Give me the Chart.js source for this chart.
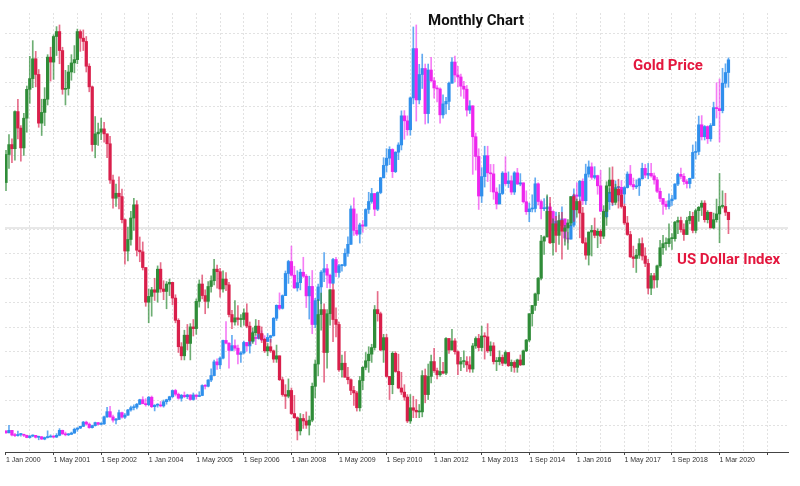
<!DOCTYPE html>
<html lang="en">
<head>
<meta charset="UTF-8">
<title>Gold Price vs US Dollar Index - Monthly Chart</title>
<script src="https://cdn.jsdelivr.net/npm/chart.js"></script>
<style>
  html, body { margin: 0; padding: 0; background: #fff; }
  #wrap { width: 800px; height: 486px; }
</style>
</head>
<body>
<div id="wrap"><canvas id="chart" width="800" height="486"></canvas></div>
<script>
// labels under the time axis, one every 16 monthly bars
const tickLabels = ['1 Jan 2000', '1 May 2001', '1 Sep 2002', '1 Jan 2004', '1 May 2005', '1 Sep 2006',
  '1 Jan 2008', '1 May 2009', '1 Sep 2010', '1 Jan 2012', '1 May 2013', '1 Sep 2014',
  '1 Jan 2016', '1 May 2017', '1 Sep 2018', '1 Mar 2020'];

// gold (XAUUSD) monthly bars, one row per year
const goldFirstOpen = 290;
const goldClose = [
  283,293,274,272,276,277,273,264,270,273,
  265,267,258,264,266,270,266,273,293,279,275,277,
  282,297,302,309,326,318,304,312,324,317,319,347,
  368,347,334,337,364,346,354,375,384,386,398,416,
  400,396,426,388,394,395,391,408,416,428,453,438,
  422,434,428,435,417,435,429,433,473,470,495,513,
  568,556,583,654,643,614,633,623,598,604,646,632,
  650,665,662,679,656,650,666,673,743,795,783,834,
  923,971,916,865,886,928,912,833,871,718,814,869,
  928,942,916,884,979,927,954,955,1004,1040,1182,1096,
  1081,1118,1113,1180,1212,1244,1181,1248,1307,1357,1386,1421,
  1332,1410,1439,1556,1536,1500,1628,1826,1620,1722,1746,1565,
  1740,1697,1668,1664,1560,1604,1614,1687,1772,1720,1712,1675,
  1663,1579,1596,1472,1393,1234,1312,1396,1327,1323,1250,1202,
  1244,1326,1284,1295,1250,1327,1282,1287,1211,1171,1182,1184,
  1283,1212,1183,1183,1190,1172,1095,1132,1115,1142,1065,1061,
  1117,1238,1233,1293,1215,1322,1351,1309,1316,1275,1173,1151,
  1211,1249,1249,1268,1269,1242,1268,1322,1280,1271,1275,1303,
  1345,1318,1325,1315,1299,1253,1224,1201,1192,1215,1222,1282,
  1321,1313,1292,1284,1305,1409,1413,1520,1472,1513,1464,1517,
  1589,1585,1577,1687,1730,1781
];
const goldHigh = [
  293,313,289,281,290,281,278,274,272,275,
  273,270,269,266,291,275,272,280,300,294,286,280,
  286,302,304,310,329,330,323,314,326,325,324,350,
  385,389,354,341,374,366,360,377,390,395,401,418,
  428,420,429,431,396,400,409,415,418,430,455,458,
  443,437,447,438,436,443,432,448,476,477,497,540,
  575,580,588,655,730,645,675,656,635,609,651,645,
  658,690,674,694,693,673,682,675,746,797,845,837,
  933,976,1033,952,934,940,988,919,912,935,823,880,
  935,1007,960,921,984,988,960,960,1022,1070,1195,1227,
  1162,1125,1136,1183,1249,1265,1244,1251,1309,1388,1424,1432,
  1424,1412,1448,1576,1577,1556,1632,1913,1921,1763,1804,1764,
  1764,1791,1710,1678,1668,1640,1630,1692,1790,1796,1755,1724,
  1695,1678,1617,1597,1487,1424,1348,1434,1434,1361,1361,1267,
  1280,1332,1392,1331,1315,1332,1345,1324,1287,1255,1206,1239,
  1307,1287,1219,1224,1232,1205,1175,1170,1157,1191,1142,1088,
  1127,1263,1287,1297,1303,1362,1375,1367,1352,1318,1337,1180,
  1220,1264,1261,1295,1271,1296,1272,1331,1357,1306,1299,1306,
  1366,1361,1365,1365,1326,1309,1266,1220,1214,1243,1237,1284,
  1326,1346,1324,1300,1306,1439,1452,1555,1557,1517,1516,1525,
  1611,1689,1704,1747,1765,1789
];
const goldLow = [
  281,283,271,268,270,270,268,263,262,267,
  262,255,256,255,262,266,263,264,271,276,271,272,
  276,281,289,300,308,315,301,302,310,315,315,317,
  345,345,326,319,336,342,341,353,370,375,379,396,
  399,390,392,384,371,386,387,386,398,410,425,431,
  418,410,424,420,414,414,418,428,432,459,467,488,
  514,538,541,580,640,543,612,614,560,566,600,611,
  603,648,637,659,653,642,649,647,671,734,777,780,
  834,883,912,863,852,857,907,786,740,681,705,753,
  802,890,866,865,881,910,908,932,951,991,1040,1076,
  1075,1045,1088,1113,1164,1205,1155,1175,1243,1313,1330,1360,
  1308,1328,1380,1419,1462,1478,1478,1604,1535,1604,1666,1523,
  1527,1692,1627,1612,1527,1547,1564,1581,1687,1692,1672,1635,
  1626,1555,1565,1321,1338,1180,1208,1270,1292,1251,1221,1182,
  1202,1240,1277,1268,1240,1240,1281,1275,1206,1160,1131,1170,
  1170,1198,1142,1175,1170,1162,1077,1080,1098,1112,1052,1046,
  1061,1110,1208,1207,1200,1200,1310,1301,1302,1241,1171,1123,
  1146,1180,1195,1240,1214,1236,1204,1266,1274,1260,1264,1236,
  1302,1307,1303,1310,1282,1247,1211,1160,1180,1182,1196,1221,
  1276,1303,1281,1266,1266,1305,1382,1400,1459,1459,1445,1454,
  1517,1547,1451,1568,1670,1671
];

// US Dollar Index monthly bars, one row per year
const usdFirstOpen = 101.9;
const usdClose = [
  105.3,106.5,106.0,110.5,108.5,106.1,109.7,113.2,114.5,116.9,115.0,109.1,
  110.4,112.0,117.1,116.5,119.6,120.2,117.9,113.2,113.3,115.3,116.4,116.8,
  120.2,119.4,119.0,116.0,113.5,106.5,107.8,108.0,108.4,107.8,106.6,102.2,
  100.0,100.6,100.2,97.4,93.6,95.0,97.6,99.2,93.7,93.5,91.6,87.4,
  88.1,88.9,88.6,91.4,89.0,88.7,89.6,89.8,87.9,85.2,82.0,80.9,
  83.4,82.4,84.4,84.2,87.5,89.6,88.2,87.5,89.3,90.0,91.4,91.1,
  89.0,90.2,89.5,85.9,85.0,85.5,85.3,85.3,86.1,84.5,82.7,83.7,
  84.5,83.6,82.9,81.5,82.0,81.5,80.5,80.9,78.0,76.2,76.0,76.7,
  73.9,73.4,71.8,73.3,73.0,72.5,73.1,77.2,79.9,85.9,86.5,81.3,
  86.0,88.9,85.3,84.7,79.2,80.0,78.3,78.0,76.7,76.4,74.6,77.9,
  79.5,80.3,81.1,81.9,86.5,86.0,81.6,83.1,78.4,77.4,81.2,79.0,
  77.0,76.5,75.9,73.0,74.6,74.3,74.1,74.1,78.5,76.2,78.4,80.2,
  79.1,78.6,79.0,78.8,83.0,81.6,82.7,81.4,79.9,80.2,80.2,79.8,
  79.3,82.1,83.0,81.9,83.3,83.2,81.5,82.1,80.2,80.2,80.7,80.0,
  81.3,79.7,80.1,79.5,80.4,79.8,81.5,82.8,86.0,87.0,88.4,90.3,
  94.8,95.3,98.4,94.6,96.9,95.5,97.3,96.0,96.4,97.0,100.2,98.6,
  99.6,98.2,94.6,93.1,95.9,96.1,95.5,96.0,95.4,98.4,101.5,102.2,
  99.5,101.1,100.4,99.0,97.0,95.6,92.9,92.7,93.1,94.5,93.0,92.1,
  89.1,90.6,90.1,91.8,94.0,94.5,94.5,95.1,95.1,97.1,97.3,96.2,
  95.6,97.3,97.8,96.1,98.5,98.9,99.4,97.4,98.3,96.4,
  97.4,98.1,99.0,99.0,98.3,97.4
];
const usdHigh = [
  105.8,107.7,107.2,110.6,112.0,108.8,110.3,113.6,117.2,119.1,117.8,115.6,
  112.0,113.4,117.4,118.3,119.8,120.8,121.0,118.3,115.5,116.1,117.4,118.5,
  120.5,120.4,120.4,119.6,116.3,113.6,109.9,109.1,109.7,109.2,107.3,107.5,
  102.8,101.7,102.6,101.1,97.5,96.5,98.4,100.0,99.7,95.3,94.7,91.6,
  89.0,89.2,90.3,91.8,92.2,90.0,89.9,90.2,89.7,88.3,85.4,82.5,
  84.0,84.7,84.8,85.3,87.8,90.1,90.7,88.9,89.9,90.6,92.6,91.9,
  91.5,91.2,91.0,89.8,86.4,87.6,87.0,85.9,86.6,87.2,85.0,84.3,
  85.3,85.2,84.4,83.0,82.4,82.9,81.6,82.2,80.8,78.3,77.4,78.1,
  77.0,76.1,73.5,73.9,73.8,74.1,73.6,77.6,80.4,87.7,88.5,87.2,
  86.5,89.0,89.6,86.7,85.0,81.0,81.4,79.5,78.1,77.2,76.6,78.4,
  79.6,81.3,82.0,82.3,87.0,88.7,86.2,83.5,83.5,78.4,81.4,81.4,
  81.1,78.9,77.4,76.2,76.2,76.0,75.6,75.0,79.1,79.3,79.9,81.0,
  81.8,79.4,80.7,80.1,83.1,83.0,84.1,83.0,81.5,80.7,81.5,80.8,
  80.8,82.4,83.2,83.5,84.5,83.7,84.8,82.6,82.5,80.7,81.5,81.0,
  81.5,81.3,80.4,80.3,80.5,81.0,81.6,82.9,86.0,87.0,88.5,90.4,
  95.5,95.4,100.4,100.1,97.5,97.8,98.3,98.3,96.7,97.4,100.2,100.5,
  99.9,99.8,98.9,95.2,95.9,96.7,97.6,96.3,96.2,99.1,102.0,103.7,
  103.8,101.7,102.3,101.0,99.3,97.8,96.0,94.2,93.8,95.1,95.2,94.0,
  92.6,90.9,90.9,91.9,94.9,95.5,95.2,96.9,95.7,97.2,97.7,97.7,
  96.9,97.7,98.4,98.3,98.7,99.0,99.7,99.7,98.5,98.3,
  98.2,99.9,103.0,100.9,100.6,98.0
];
const usdLow = [
  100.9,103.6,104.3,104.6,107.2,104.5,105.2,108.0,111.5,113.4,113.5,108.6,
  107.6,108.8,111.3,114.2,114.4,117.3,116.3,112.6,111.3,112.5,114.3,115.2,
  116.3,117.8,117.9,115.3,112.9,105.7,104.9,106.4,107.1,106.8,104.9,101.8,
  98.8,99.0,98.7,97.0,92.0,92.4,94.3,96.1,93.0,92.3,91.3,86.9,
  84.9,85.7,87.6,87.4,88.6,87.7,86.6,88.2,87.1,84.9,81.3,80.4,
  80.4,81.6,80.4,83.3,83.5,86.8,87.8,86.0,86.7,88.6,89.5,89.1,
  88.0,88.6,88.8,85.6,84.2,84.6,84.6,84.4,84.6,84.3,82.3,82.4,
  83.4,83.0,82.5,81.3,80.9,81.3,80.1,80.1,77.9,76.0,74.5,75.8,
  73.8,73.3,70.7,71.3,72.1,72.1,71.3,72.9,75.8,78.5,84.0,77.7,
  79.4,84.6,82.6,83.2,79.0,78.3,78.3,77.5,76.2,74.9,74.2,74.2,
  76.8,79.2,78.9,80.1,81.6,85.1,81.5,80.1,78.3,75.6,76.3,78.9,
  76.9,76.2,75.5,72.8,72.7,73.4,73.4,73.4,73.5,75.2,75.6,77.6,
  78.9,78.1,78.4,78.7,78.6,81.2,81.6,81.1,78.6,79.1,79.5,79.0,
  78.9,78.9,81.8,81.5,81.5,80.5,81.3,80.9,79.9,79.1,79.8,79.7,
  79.9,79.6,79.0,78.9,78.9,79.7,79.8,81.4,82.6,84.5,86.4,87.6,
  90.1,93.2,95.3,94.5,93.1,93.5,94.4,92.6,94.3,93.8,96.7,97.2,
  97.7,95.2,94.5,92.6,91.9,93.0,95.2,94.0,94.5,95.1,96.7,100.6,
  99.2,99.2,98.8,98.8,96.8,95.5,92.8,91.6,91.0,92.7,92.5,91.7,
  88.4,88.3,89.1,89.2,91.6,93.2,93.7,94.1,93.8,94.8,95.7,95.9,
  94.9,95.7,96.9,95.8,95.8,97.2,97.9,97.1,97.0,96.4,
  96.3,97.1,94.6,98.8,97.9,95.7
];

// current dollar index level line
const usdPriceLine = 96.4;

const goldUp = '#2f8fec', goldDown = '#ee26ee';
const usdUp = '#2f8c38', usdDown = '#d91f4b';
const goldUpWick = 'rgba(47,143,236,0.75)', goldDownWick = 'rgba(238,38,238,0.6)';
const usdUpWick = 'rgba(47,140,56,0.7)', usdDownWick = 'rgba(217,31,75,0.65)';

// turn close/high/low rows into candle bodies and wicks
function candles(firstOpen, close, high, low, colorSet) {
  const body = [], wick = [], colors = [], wickColors = [];
  for (let i = 0; i < close.length; i++) {
    const open = i === 0 ? firstOpen : close[i - 1];
    const up = close[i] >= open;
    body.push({ x: i, y: [open, close[i]] });
    wick.push({ x: i, y: [Math.min(low[i], open, close[i]), Math.max(high[i], open, close[i])] });
    colors.push(up ? colorSet[0] : colorSet[1]);
    wickColors.push(up ? colorSet[2] : colorSet[3]);
  }
  return { body, wick, colors, wickColors };
}

const usd = candles(usdFirstOpen, usdClose, usdHigh, usdLow, [usdUp, usdDown, usdUpWick, usdDownWick]);
const gold = candles(goldFirstOpen, goldClose, goldHigh, goldLow, [goldUp, goldDown, goldUpWick, goldDownWick]);

const priceLine = {
  id: 'priceLine',
  beforeDatasetsDraw(chart) {
    const { ctx, chartArea } = chart;
    const y = chart.scales.yu.getPixelForValue(usdPriceLine);
    ctx.save();
    ctx.strokeStyle = '#e0e0e0';
    ctx.lineWidth = 1.5;
    ctx.beginPath();
    ctx.moveTo(chartArea.left, y);
    ctx.lineTo(chartArea.right, y);
    ctx.stroke();
    ctx.restore();
  }
};

const captions = {
  id: 'captions',
  afterDraw(chart) {
    const ctx = chart.ctx;
    ctx.save();
    ctx.textBaseline = 'middle';
    ctx.font = 'bold 15px Roboto';
    ctx.fillStyle = '#111';
    ctx.textAlign = 'center';
    ctx.fillText('Monthly Chart', 476, 21);
    ctx.fillStyle = '#e3173e';
    ctx.textAlign = 'left';
    ctx.fillText('Gold Price', 633, 66);
    ctx.fillText('US Dollar Index', 677, 260);
    ctx.restore();
  }
};

const barOpts = { grouped: false, borderWidth: 0 };

new Chart(document.getElementById('chart'), {
  type: 'bar',
  data: {
    datasets: [
      { ...barOpts, data: usd.body, yAxisID: 'yu', backgroundColor: usd.colors, barThickness: 2.6, minBarLength: 1 },
      { ...barOpts, data: usd.wick, yAxisID: 'yu', backgroundColor: usd.wickColors, barThickness: 1 },
      { ...barOpts, data: gold.body, yAxisID: 'yg', backgroundColor: gold.colors, barThickness: 2.6, minBarLength: 1 },
      { ...barOpts, data: gold.wick, yAxisID: 'yg', backgroundColor: gold.wickColors, barThickness: 1 }
    ]
  },
  options: {
    responsive: false,
    animation: false,
    layout: { padding: { left: 5, right: 12, top: 13, bottom: 0 } },
    plugins: { legend: { display: false }, tooltip: { enabled: false } },
    scales: {
      x: {
        type: 'linear',
        min: -0.336,
        max: 263.03,
        offset: false,
        afterBuildTicks: s => {
          s.ticks = [];
          for (let v = 0; v <= 256; v += 8) s.ticks.push({ value: v });
        },
        afterFit: s => { s.height = 34; },
        grid: {
          offset: false,
          color: c => (c.tick && c.tick.value === 0) ? 'rgba(0,0,0,0)' : '#e2e2e2',
          tickColor: c => (c.tick && c.tick.value % 16 === 0) ? '#444' : 'rgba(0,0,0,0)',
          tickLength: 3
        },
        border: { display: true, color: '#444', width: 1, dash: [2, 2] },
        ticks: {
          autoSkip: false,
          maxRotation: 0,
          align: 'start',
          padding: 1,
          color: '#333',
          font: { family: 'Liberation Sans', size: 7 },
          callback: v => (v % 16 === 0 && tickLabels[v / 16]) ? tickLabels[v / 16] : ''
        }
      },
      g: {
        type: 'linear',
        position: 'left',
        min: -0.102,
        max: 17.82,
        afterBuildTicks: s => {
          s.ticks = [];
          for (let k = 1; k <= 17; k++) s.ticks.push({ value: k });
        },
        afterFit: s => { s.width = 0; },
        ticks: { display: false },
        grid: { color: '#e2e2e2', drawTicks: false },
        border: { display: false, dash: [2, 2] }
      },
      yu: { display: false, min: 69.24, max: 122.45 },
      yg: { display: false, min: 206, max: 1969 }
    }
  },
  plugins: [priceLine, captions]
});
</script>
</body>
</html>
